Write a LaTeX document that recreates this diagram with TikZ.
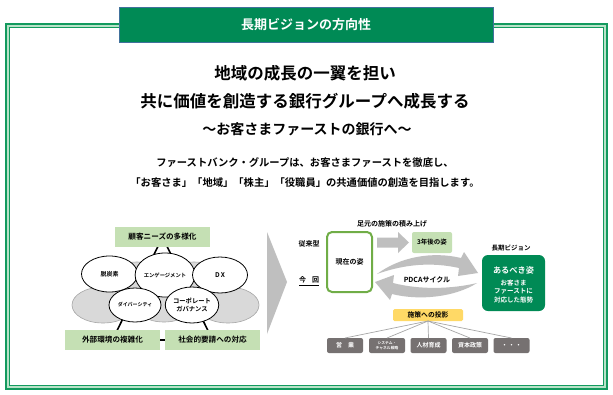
\documentclass[tikz,border=0pt]{standalone}
\usepackage{fontspec}
\setmainfont{Noto Sans CJK JP}[BoldFont={Noto Sans CJK JP Bold}]
\usetikzlibrary{shapes.geometric}
\definecolor{titlegreen}{HTML}{008A55}
\definecolor{framegreen}{HTML}{139A5E}
\definecolor{framelight}{HTML}{B8E2C8}
\definecolor{titleedge}{HTML}{41719C}
\definecolor{lightgreen}{HTML}{C5E0B4}
\definecolor{midgreen}{HTML}{70AD47}
\definecolor{arrowgray}{HTML}{BFBFBF}
\definecolor{ellgray}{HTML}{D9D9D9}
\definecolor{boxgray}{HTML}{767171}
\definecolor{projyellow}{HTML}{FFD966}
\newcommand\fsz[1]{\fontsize{#1}{#1}\selectfont}
\tikzset{
  lgbox/.style={fill=lightgreen, minimum width=95pt, minimum height=20pt, font=\fsz{7.6}\bfseries},
  grayell/.style={ellipse, fill=ellgray, draw=gray!70, line width=0.6pt},
  whiteell/.style={ellipse, fill=white, draw=black, line width=0.8pt, align=center},
  graybox/.style={fill=boxgray, rounded corners=2pt, minimum width=36pt, minimum height=15pt, text=white, font=\fsz{6}\bfseries, align=center},
  lbl/.style={font=\fsz{7}\bfseries, align=center},
  feed/.style={draw=gray!70, line width=0.7pt},
}
\begin{document}
\begin{tikzpicture}[x=1pt,y=-1pt, every node/.style={inner sep=0pt, outer sep=0pt}]
\useasboundingbox (0,0) rectangle (613,394);
\fill[white] (0,0) rectangle (613,394);
% frame
\draw[framelight, line width=3.5pt] (7.75,25.75) rectangle (605.25,387.25);
\draw[framegreen, line width=1.2pt] (6,24) rectangle (607,389);
\draw[framegreen, line width=1.2pt] (9.5,27.5) rectangle (603.5,385.5);
% title
\node[fill=titlegreen, draw=titleedge, line width=0.8pt, minimum width=374pt, minimum height=35pt,
      text=white, font=\fsz{13}\bfseries] (title) at (306,25) {長期ビジョンの方向性};
% headline texts
\node[font=\fsz{16.5}\bfseries] (h1) at (305,73) {地域の成長の一翼を担い};
\node[font=\fsz{16.5}\bfseries] (h2) at (305,101) {共に価値を創造する銀行グループへ成長する};
\node[font=\fsz{14}\bfseries] (h3) at (307,129) {～お客さまファーストの銀行へ～};
\node[font=\fsz{10.3}\bfseries] (p1) at (305,163) {ファーストバンク・グループは、お客さまファーストを徹底し、};
\node[font=\fsz{10.3}\bfseries] (p2) at (305,183) {「お客さま」「地域」「株主」「役職員」の共通価値の創造を目指します。};
% left diagram
\coordinate (cn) at (162.5,237);
\coordinate (ce) at (112.5,340);
\coordinate (cs) at (212.5,340);
\draw[black, line width=1.6pt] (cn) -- (ce) -- (cs) -- cycle;
\node[grayell, minimum width=60pt, minimum height=36pt] (g4) at (137,280) {};
\node[grayell, minimum width=60pt, minimum height=36pt] (g5) at (194,280) {};
\node[grayell, minimum width=62pt, minimum height=36pt] (g1) at (103,305) {};
\node[grayell, minimum width=62pt, minimum height=36pt] (g2) at (228,305) {};
\node[grayell, minimum width=60pt, minimum height=36pt] (g3) at (164,304) {};
\node[whiteell, minimum width=56pt, minimum height=36pt, font=\fsz{6}\bfseries] (e1) at (109.5,274) {脱炭素};
\node[whiteell, minimum width=56pt, minimum height=44pt, font=\fsz{5.3}\bfseries] (e2) at (165,275) {エンゲージメント};
\node[whiteell, minimum width=55pt, minimum height=36pt, font=\fsz{6.5}\bfseries] (e3) at (220,275) {D\,X};
\node[whiteell, minimum width=52pt, minimum height=34pt, font=\fsz{5}\bfseries] (e4) at (135,305) {ダイバーシティ};
\node[whiteell, minimum width=52pt, minimum height=36pt, font=\fsz{6.3}\bfseries] (e5) at (192,305) {コーポレート\\[1.5pt]ガバナンス};
\node[lgbox] (needs) at (cn) {顧客ニーズの多様化};
\node[lgbox] (ext) at (ce) {外部環境の複雑化};
\node[lgbox] (soc) at (cs) {社会的要請への対応};
% chevron
\fill[arrowgray] (267,232) -- (287,282) -- (267,334) -- cycle;
% right diagram
\node[lbl] (old) at (309,244) {従来型};
\node[lbl] (now) at (309,281) {\underline{今\hspace{6pt}回}};
\node[draw=midgreen, line width=2pt, fill=white, rounded corners=5pt, minimum width=45pt, minimum height=60pt, font=\fsz{7}\bfseries] (cur) at (349.5,262) {現在の姿};
\node[lbl] (base) at (392,224) {足元の施策の積み上げ};
\fill[arrowgray] (377,237.5) -- (398,237.5) -- (398,232) -- (409,242.5) -- (398,253) -- (398,247.5) -- (377,247.5) -- cycle;
\node[fill=lightgreen, rounded corners=2pt, minimum width=40pt, minimum height=21pt, font=\fsz{6.5}\bfseries] (three) at (432,242.5) {3年後の姿};
\node[font=\fsz{6.5}\bfseries] (lv) at (511,248) {長期ビジョン};
\node[fill=titlegreen, rounded corners=6pt, minimum width=63pt, minimum height=56pt] (vision) at (513.5,283) {};
\node[text=white, font=\fsz{8.2}\bfseries] (ideal) at (513.5,270) {あるべき姿};
\node[text=white, font=\fsz{6.5}\bfseries, align=center] (idealsub) at (513.5,291.5) {お客さま\\[1.8pt]ファーストに\\[1.8pt]対応した態勢};
% PDCA arrows
\fill[arrowgray] (377,274) .. controls (400,257) and (432,251) .. (461,258) -- (464,252) -- (478,273) -- (458,276) -- (459,268) .. controls (432,262) and (405,264) .. cycle;
\fill[arrowgray] (477,283) .. controls (455,297) and (420,301) .. (392,294) -- (390,300) -- (375,282) -- (394,275) -- (393,283) .. controls (420,290) and (452,289) .. cycle;
\node[font=\fsz{7}\bfseries] (pdca) at (427,280) {PDCAサイクル};
% projection
\node[fill=projyellow, rounded corners=1.5pt, minimum width=70pt, minimum height=12pt, font=\fsz{6.8}\bfseries] (proj) at (428,315) {施策への投影};
\node[graybox] (b1) at (345,345.5) {営\hspace{6pt}業};
\node[graybox, font=\fsz{3.8}\bfseries] (b2) at (387,345.5) {システム・\\[1pt]チャネル戦略};
\node[graybox] (b3) at (428.5,345.5) {人材育成};
\node[graybox] (b4) at (470,345.5) {資本政策};
\node[graybox] (b5) at (511.5,345.5) {・\hspace{1pt}・\hspace{1pt}・};
\foreach \b in {b1,b2,b3,b4,b5} \draw[feed] (proj.south) -- (\b.north);
\end{tikzpicture}
\end{document}
